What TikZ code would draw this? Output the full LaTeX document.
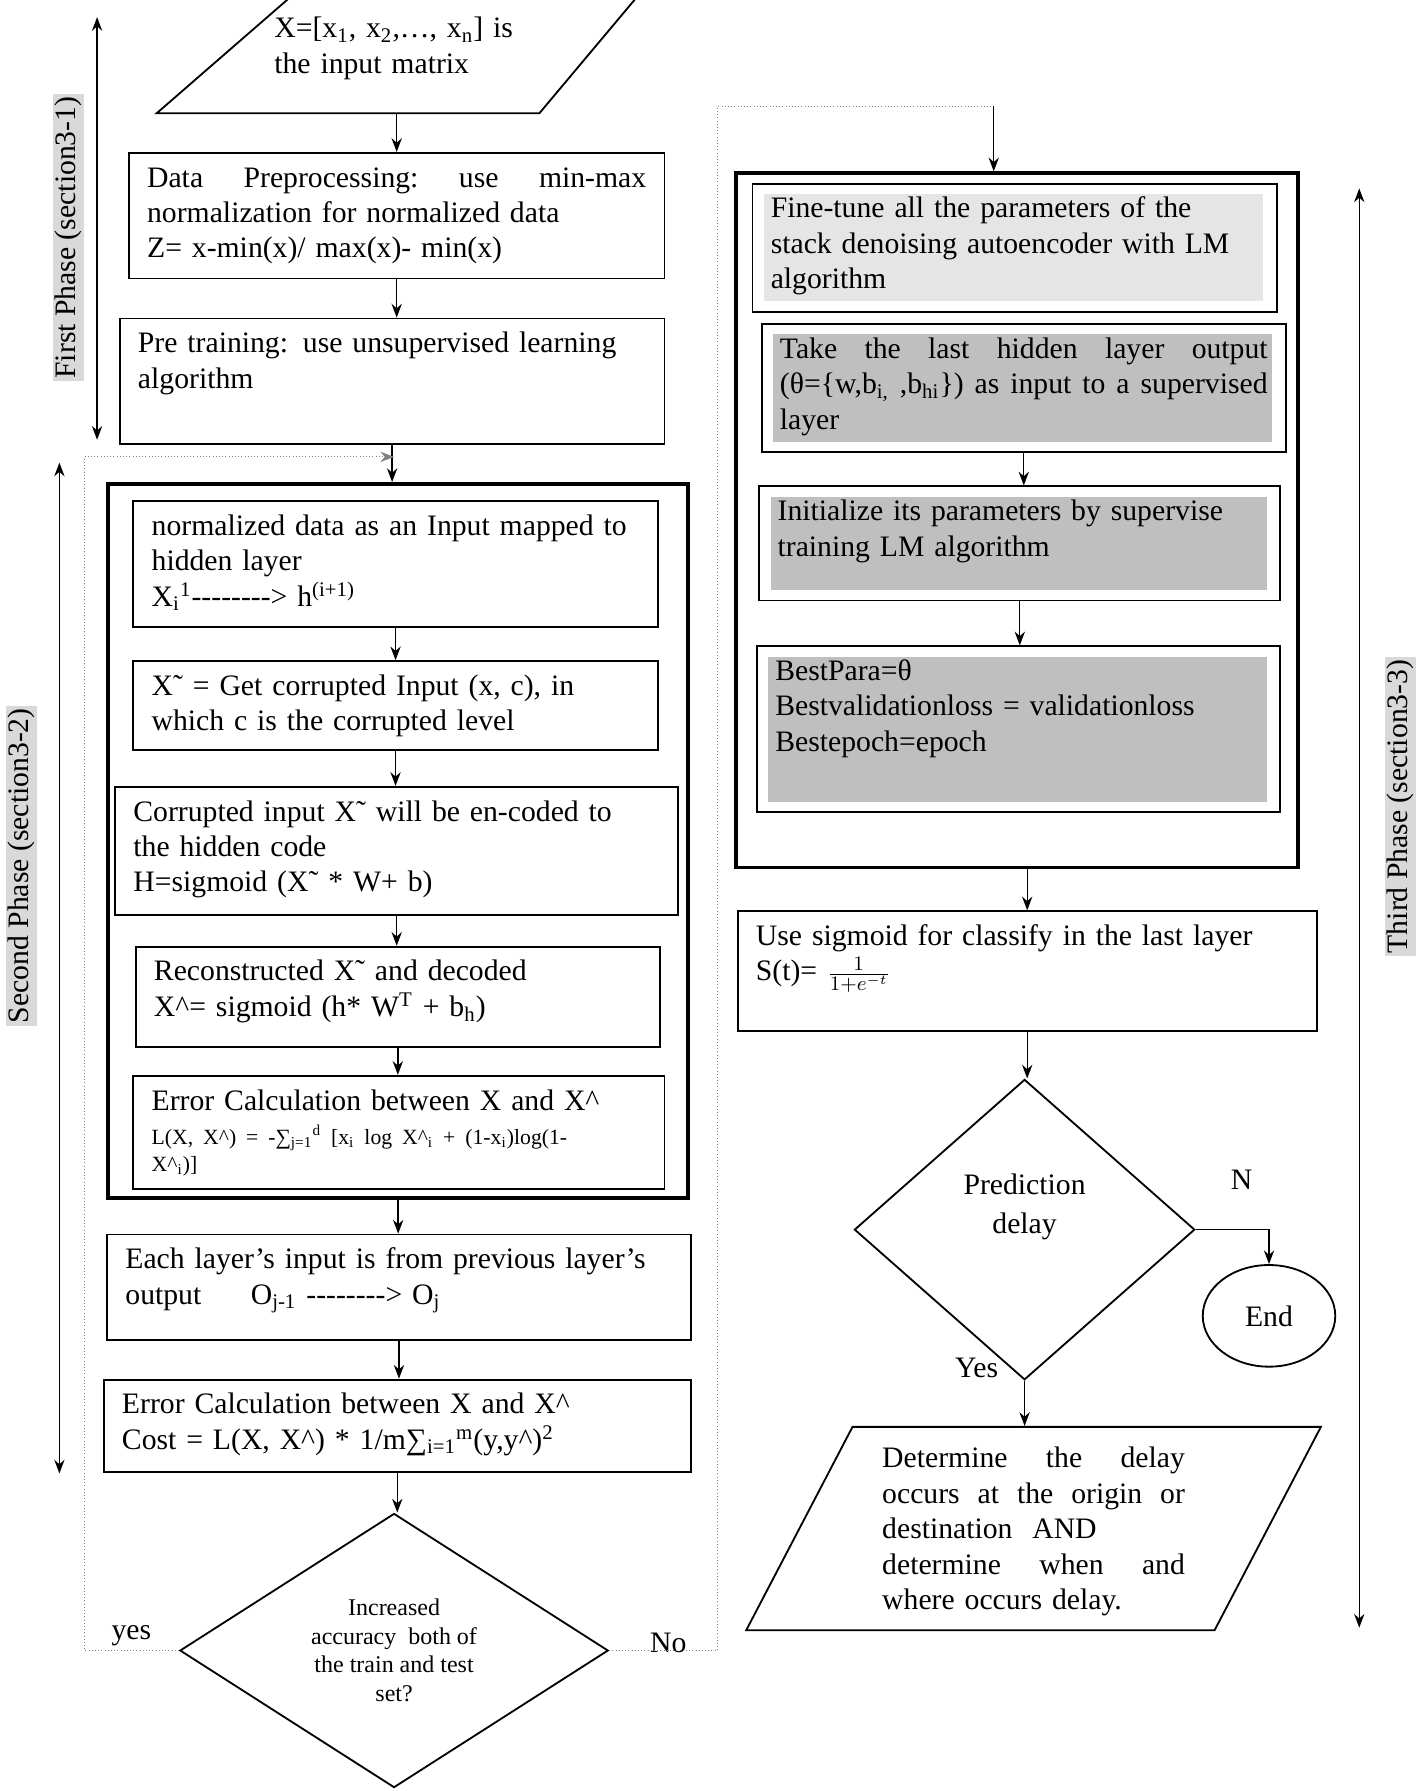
\documentclass[tikz,border=0pt]{standalone}
\usepackage{fontspec}
\setmainfont{Liberation Serif}
\usepackage{tikz}
\usetikzlibrary{shapes,arrows.meta}

\newcommand{\boxfont}{\fontsize{13}{15.5}\selectfont}
\newcommand{\fullline}[1]{\leavevmode\hbox to\hsize{\spaceskip=.3333em plus 1fil\xspaceskip=.3333em plus 1fil #1}}
\newcommand{\hy}{\mbox{-}}

\begin{document}
\begin{tikzpicture}[
                x=0.5pt, y=-0.5pt,
                >={Stealth[length=6pt,width=4.5pt]},
                box/.style={draw, thick, rectangle, anchor=north west, inner xsep=8pt, inner ysep=5pt, align=left, text height=10pt, font=\boxfont},
                stage/.style={draw, line width=1.6pt, rectangle, anchor=north west, inner sep=0pt},
                inset/.style={path picture={\fill[#1] ([xshift=5pt,yshift=-4.5pt]path picture bounding box.north west) rectangle ([xshift=-6pt,yshift=4.5pt]path picture bounding box.south east);}},
                decision/.style={diamond, draw, thick, inner sep=0pt, align=center},
                io/.style={trapezium, draw, thick, anchor=bottom left corner, align=left, inner ysep=4pt, font=\boxfont},
                phase/.style={rotate=90, fill=gray!30, inner sep=1pt, font=\fontsize{13}{15}\selectfont},
                flow/.style={->, semithick},
                back/.style={densely dotted, gray}
            ]
            \useasboundingbox (0,0) rectangle (1240,1568);
            %\draw[help lines, step=50] (0,0) grid (1240,1568);

            \node[stage, minimum width=254pt, minimum height=312.5pt] (SDAE) at (93,422) {};
            \node[stage, minimum width=246pt, minimum height=304pt] (Tuning) at (643,150) {};

            \node[io, trapezium left angle=41, trapezium right angle=130, text width=110pt, inner xsep=0pt, text height=13pt, text depth=29pt] (Input) at (135,100) {\hspace*{-6pt}X=[x\textsubscript{1}, x\textsubscript{2},…, x\textsubscript{n}] is\\\hspace*{-6pt}the input matrix};
            \node[box, text width=218.5pt, text depth=35pt] (Preprocessing) at (112,133) {\fullline{Data Preprocessing: use min-max}\\normalization for normalized data\\Z= x-min(x)/ max(x)- min(x)};
            \node[box, text width=222.5pt, text depth=35pt] (Pretraining) at (104,278) {Pre training: use unsupervised learning\\algorithm};

            \node[box, text width=213.5pt, text depth=35pt] (Mapping) at (116,438) {normalized data as an Input mapped to\\hidden layer\\X\textsubscript{i}\textsuperscript{1}\hy\hy\hy\hy\hy\hy\hy\hy> h\textsuperscript{(i+1)}};
            \node[box, text width=213.5pt, text depth=19pt] (Corrupt) at (116,578) {X˜ = Get corrupted Input (x, c), in\\which c is the corrupted level};
            \node[box, text width=230.5pt, text depth=36pt] (Encode) at (100,688) {Corrupted input X˜ will be en-coded to\\the hidden code\\H=sigmoid (X˜ * W+ b)};
            \node[box, text width=213.5pt, text depth=24pt] (Decode) at (118,828) {Reconstructed X˜ and decoded\\X\textasciicircum= sigmoid (h* W\textsuperscript{T} + b\textsubscript{h})};
            \node[box, text width=216.5pt, text depth=29.5pt] (Error) at (116,941) {Error Calculation between X and X\textasciicircum\\[3pt]{\fontsize{9.5}{12}\selectfont L(X, X\textasciicircum) = -∑\textsubscript{j=1}\textsuperscript{d} [x\textsubscript{i} log X\textasciicircum\textsubscript{i} + (1-x\textsubscript{i})log(1-\\X\textasciicircum\textsubscript{i})]\par}};

            \node[box, text width=239.5pt, text depth=26pt] (Layer) at (93,1080) {Each layer’s input is from previous layer’s\\output\quad\ \ O\textsubscript{j-1} \hy\hy\hy\hy\hy\hy\hy\hy> O\textsubscript{j}};
            \node[box, text width=241pt, text depth=20.5pt] (Cost) at (90,1207) {Error Calculation between X and X\textasciicircum\\Cost = L(X, X\textasciicircum) * 1/m∑\textsubscript{i=1}\textsuperscript{m}(y,y\textasciicircum)\textsuperscript{2}};
            \node[decision, aspect=1.56, minimum width=187.5pt, minimum height=120pt, font=\fontsize{10.5}{12.5}\selectfont] (Accuracy) at (345,1445) {Increased\\accuracy\ \ both of\\the train and test\\set?};

            \node[box, inset=gray!20, text width=213.5pt, text depth=36pt] (Finetune) at (658,160) {Fine-tune all the parameters of the\\stack denoising autoencoder with LM\\algorithm};
            \node[box, inset=gray!50, text width=213.5pt, text depth=36pt] (Take) at (666,283) {\fullline{Take the last hidden layer output}\\\fullline{(θ=\{w,b\textsubscript{i,} ,b\textsubscript{hi}\}) as input to a supervised}\\layer};
            \node[box, inset=gray!50, text width=212pt, text depth=30pt] (Init) at (664,425) {Initialize its parameters by supervise\\training LM algorithm};
            \node[box, inset=gray!50, text width=213pt, text depth=52.5pt] (Best) at (662,565) {BestPara=θ\\Bestvalidationloss = validationloss\\Bestepoch=epoch};
            \node[box, text width=237.5pt, text depth=32.5pt] (Sigmoid) at (645,797) {Use sigmoid for classify in the last layer\\S(t)= $\frac{1}{1+e^{-t}}$};

            \node[decision, aspect=1.13, minimum width=149pt, minimum height=131.5pt, font=\fontsize{13}{17}\selectfont] (Prediction) at (897,1076.5) {Prediction\\delay\\[6pt]~};
            \node[ellipse, draw, thick, inner sep=0pt, minimum width=58pt, minimum height=44.5pt, font=\boxfont] (End) at (1111,1152) {End};
            \node[io, trapezium left angle=62.4, trapezium right angle=117.6, text width=132.5pt, inner xsep=13pt, text height=14pt, text depth=67pt] (Determine) at (652,1428) {\fullline{Determine the delay}\\\fullline{occurs at the origin or}\\destination\ \ AND\\\fullline{determine when and}\\where occurs delay.};

            \node[phase] (Phase_1) at (60,208) {First Phase (section3-1)};
            \node[phase] (Phase_2) at (19,758) {Second Phase (section3-2)};
            \node[phase] (Phase_3) at (1226,706) {Third Phase (section3-3)};

            \node[font=\boxfont] (Yes_1) at (115,1432) {yes};
            \node[font=\boxfont] (No_1) at (585,1438) {No};
            \node[font=\boxfont] (N_2) at (1087,1033) {N};
            \node[font=\boxfont] (Yes_2) at (855,1198) {Yes};

            \coordinate (LoopIn) at (345,400);
            \coordinate (LoopOut) at (870,93);
            \coordinate (P1_top) at (85,15);
            \coordinate (P1_bot) at (85,385);
            \coordinate (P2_top) at (52,405);
            \coordinate (P2_bot) at (52,1290);
            \coordinate (P3_top) at (1190,165);
            \coordinate (P3_bot) at (1190,1425);

            \draw[<->, semithick] (P1_top) -- (P1_bot);
            \draw[<->, semithick] (P2_top) -- (P2_bot);
            \draw[<->, semithick] (P3_top) -- (P3_bot);

            \draw[flow] (Preprocessing.north |- Input.south) -- (Preprocessing.north);
            \draw[flow] (Preprocessing.south) -- (Preprocessing.south |- Pretraining.north);
            \draw[flow] (Pretraining.south) -- (Pretraining.south |- SDAE.north);

            \draw[flow] (Mapping.south) -- (Mapping.south |- Corrupt.north);
            \draw[flow] (Corrupt.south) -- (Corrupt.south |- Encode.north);
            \draw[flow] (Encode.south) -- (Encode.south |- Decode.north);
            \draw[flow] (Decode.south) -- (Decode.south |- Error.north);

            \draw[flow] (SDAE.south) -- (SDAE.south |- Layer.north);
            \draw[flow] (Layer.south) -- (Layer.south |- Cost.north);
            \draw[flow] (Cost.south) -- (Cost.south |- Accuracy.north);

            \draw[back, ->] (Accuracy.west) -- ++(-83,0) |- (LoopIn);
            \draw[back] (Accuracy.east) -- ++(95,0) |- (LoopOut);
            \draw[flow] (LoopOut) -- (LoopOut |- Tuning.north);

            \draw[flow] (Take.south) -- (Take.south |- Init.north);
            \draw[flow] (Init.south) -- (Init.south |- Best.north);
            \draw[flow] (Sigmoid.north |- Tuning.south) -- (Sigmoid.north);
            \draw[flow] (Sigmoid.south) -- (Sigmoid.south |- Prediction.north);
            \draw[flow] (Prediction.east) -| (End.north);
            \draw[flow] (Prediction.south) -- (Prediction.south |- Determine.north);
        \end{tikzpicture}
\end{document}
